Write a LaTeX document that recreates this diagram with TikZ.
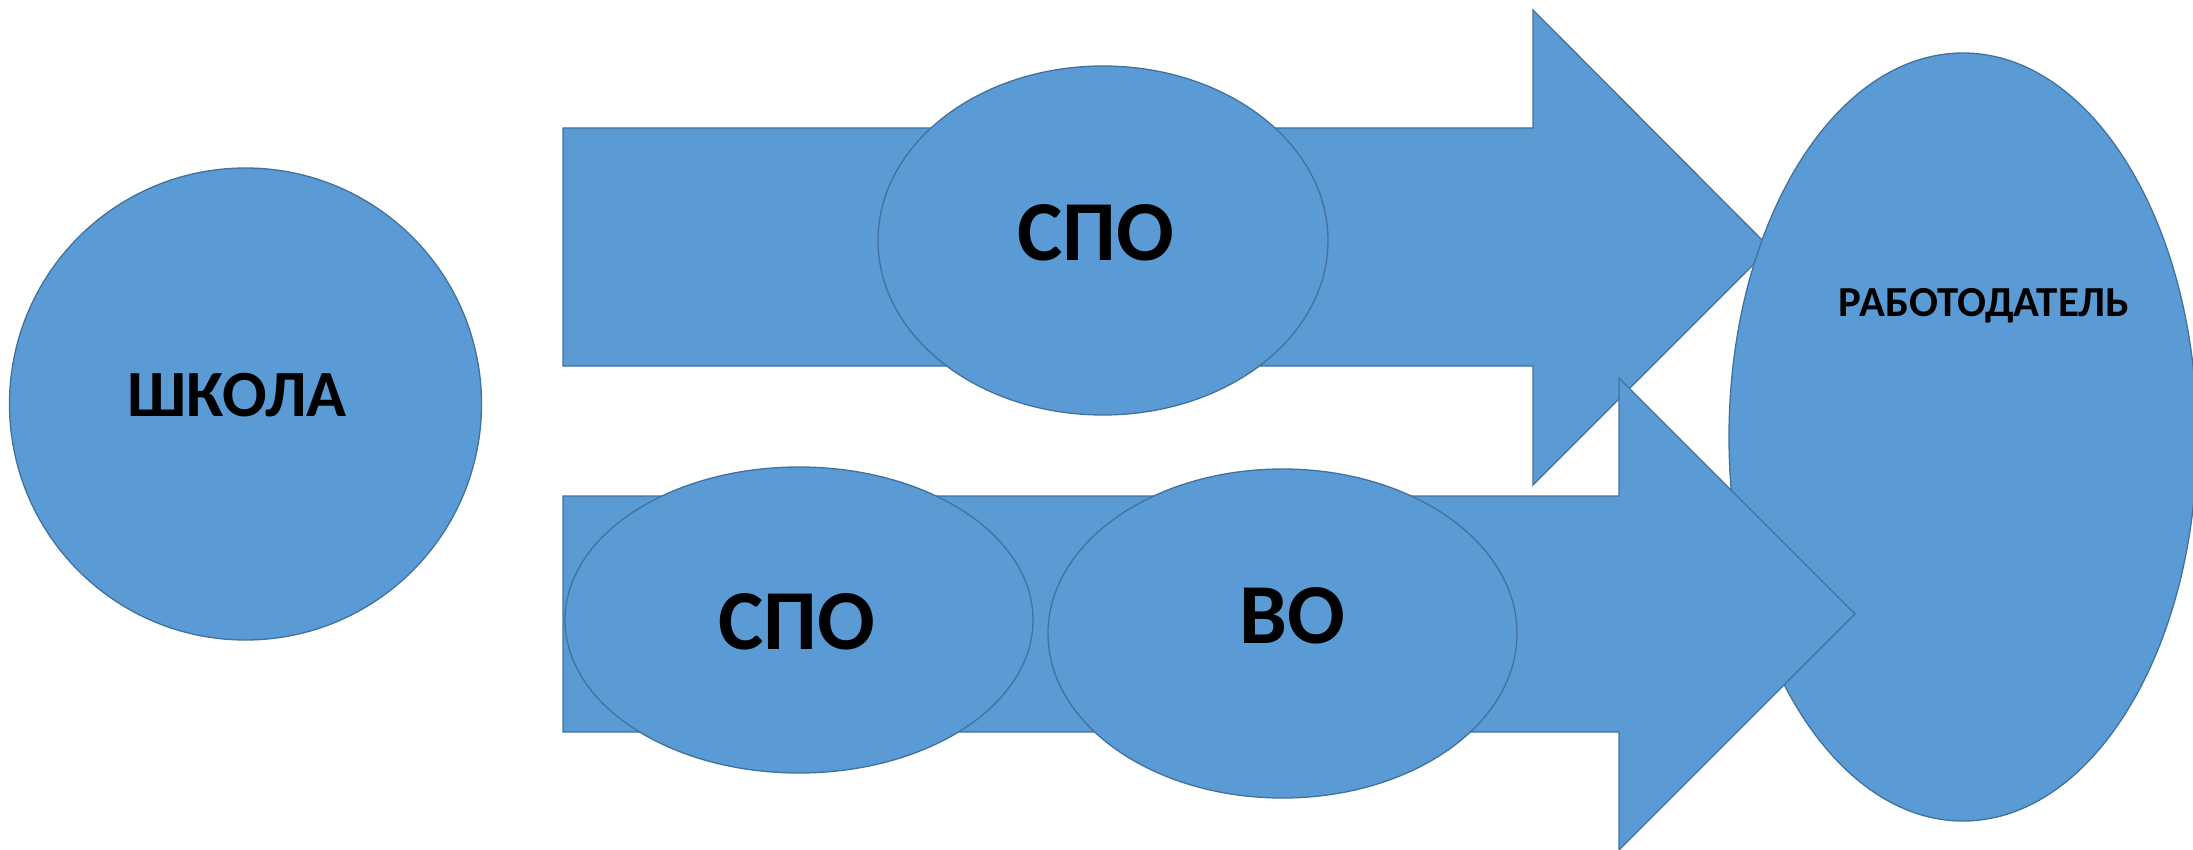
\documentclass[tikz,border=0pt]{standalone}
\usepackage{fontspec}
\setmainfont{Carlito}
\definecolor{shapefill}{HTML}{5B9BD5}
\definecolor{shapeline}{HTML}{41719C}
\tikzset{
  blueshape/.style={fill=shapefill, draw=shapeline, line width=0.65pt, line join=miter},
  bigtext/.style={anchor=base, inner sep=0pt, font=\bfseries\fontsize{42.7}{50}\selectfont},
  midtext/.style={anchor=base, inner sep=0pt, font=\bfseries\fontsize{33}{40}\selectfont},
  smalltext/.style={anchor=base, inner sep=0pt, font=\bfseries\fontsize{21.4}{26}\selectfont}
}
\begin{document}
\begin{tikzpicture}[x=0.5pt,y=-0.5pt]
\useasboundingbox (0,0) rectangle (2193,850);
\clip (0,0) rectangle (2193,850);
\fill[white] (0,0) rectangle (2193,850);
% School circle
\path[blueshape] (245.5,404) ellipse [x radius=236, y radius=236];
\node[midtext] (school) at (237,416) {ШКОЛА};
% Arrow 1
\path[blueshape] (563,128) -- (1533,128) -- (1533,10) -- (1770,248) -- (1533,485) -- (1533,366) -- (563,366) -- cycle;
% Employer ellipse
\path[blueshape] (1963,437) ellipse [x radius=234, y radius=384];
\node[smalltext] (employer) at (1984,316) {РАБОТОДАТЕЛЬ};
% Arrow 2
\path[blueshape] (563,496) -- (1619,496) -- (1619,378) -- (1855,614) -- (1619,850) -- (1619,732) -- (563,732) -- cycle;
% Top SPO ellipse
\path[blueshape] (1103,240.5) ellipse [x radius=225, y radius=174.5];
\node[bigtext] (spotop) at (1096,261) {СПО};
% Bottom SPO ellipse
\path[blueshape] (799,620) ellipse [x radius=234, y radius=153];
\node[bigtext] (spobot) at (797,649) {СПО};
% VO ellipse
\path[blueshape] (1282.5,633.5) ellipse [x radius=234.5, y radius=164.5];
\node[bigtext] (vo) at (1292,643) {ВО};
\end{tikzpicture}
\end{document}
